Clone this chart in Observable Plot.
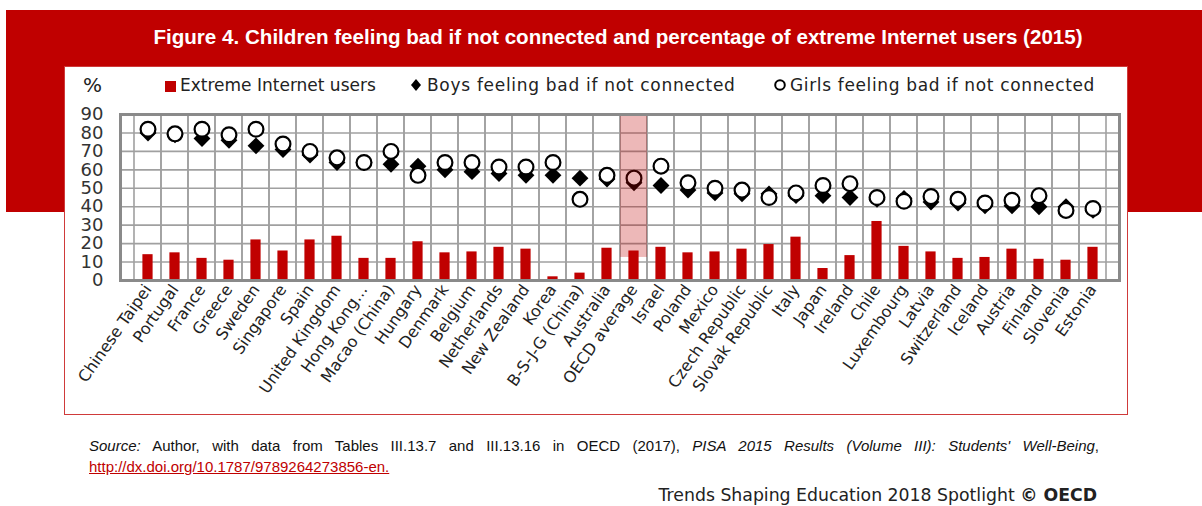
<!DOCTYPE html>
<html>
<head>
<meta charset="utf-8">
<script src="https://cdn.jsdelivr.net/npm/d3@7"></script>
<script src="https://cdn.jsdelivr.net/npm/@observablehq/plot@0.6"></script>
<style>
  html, body { margin: 0; padding: 0; background: #fff; }
  body { width: 1202px; height: 506px; position: relative; overflow: hidden; }
  #band { position: absolute; left: 6px; top: 10px; width: 1196px; height: 202px; background: #c00000; }
  #title { position: absolute; left: 0; top: 25px; width: 1236px; text-align: center; color: #fff;
    font: bold 20.6px "Liberation Sans", Arial, sans-serif; white-space: nowrap; }
  #panel { position: absolute; left: 64px; top: 66px; width: 1062px; height: 347px; background: #fff; border: 1px solid #cf3a3a; }
  .leg { position: absolute; top: 74px; font: 17px "DejaVu Sans", sans-serif; color: #222; white-space: nowrap; line-height: 22px; }
  #chart { position: absolute; left: 66px; top: 100px; }
  #source { position: absolute; left: 89px; top: 437px; width: 1010px; font: 15px "Liberation Sans", Arial, sans-serif; color: #111;
    text-align: justify; text-align-last: justify; white-space: nowrap; }
  #link { position: absolute; left: 89px; top: 458px; font: 15px "Liberation Sans", Arial, sans-serif; color: #c00000; text-decoration: underline; }
  #credit { position: absolute; right: 105px; top: 485px; font: 17.3px "DejaVu Sans", sans-serif; color: #222; white-space: nowrap; }
</style>
</head>
<body>
<div id="band"></div>
<div id="title">Figure 4. Children feeling bad if not connected and percentage of extreme Internet users (2015)</div>
<div id="panel"></div>
<div class="leg" style="left:83px;font-size:20px;">%</div>
<div class="leg" style="left:165px;"><svg width="12" height="12" style="vertical-align:-1px;margin-right:3px"><rect x="0" y="1" width="11" height="11" fill="#c00000"/></svg>Extreme Internet users</div>
<div class="leg" style="left:410px;letter-spacing:0.7px;"><svg width="14" height="14" style="vertical-align:-1px;margin-right:3px"><path d="M6,1L11,7L6,13L1,7Z" fill="#000"/></svg>Boys feeling bad if not connected</div>
<div class="leg" style="left:773px;letter-spacing:0.65px;"><svg width="14" height="14" style="vertical-align:-1px;margin-right:3px"><circle cx="7" cy="7" r="4.8" fill="#fff" stroke="#000" stroke-width="2"/></svg>Girls feeling bad if not connected</div>
<div id="chart"></div>
<div id="source"><i>Source:</i> Author, with data from Tables III.13.7 and III.13.16 in OECD (2017), <i>PISA 2015 Results (Volume III): Students' Well-Being</i>,</div>
<div id="link">http://dx.doi.org/10.1787/9789264273856-en.</div>
<div id="credit">Trends Shaping Education 2018 Spotlight <b>© OECD</b></div>
<script>
const categories = ["Chinese Taipei","Portugal","France","Greece","Sweden","Singapore","Spain","United Kingdom","Hong Kong…","Macao (China)","Hungary","Denmark","Belgium","Netherlands","New Zealand","Korea","B-S-J-G (China)","Australia","OECD average","Israel","Poland","Mexico","Czech Republic","Slovak Republic","Italy","Japan","Ireland","Chile","Luxembourg","Latvia","Switzerland","Iceland","Austria","Finland","Slovenia","Estonia"];
const extreme = [14, 15, 12, 11, 22, 16, 22, 24, 12, 12, 21, 15, 15.5, 18, 17, 2, 4, 17.5, 16, 18, 15, 15.5, 17, 19.5, 23.5, 6.5, 13.5, 32, 18.5, 15.5, 12, 12.5, 17, 11.5, 11, 18];
const boys = [80, 79, 77, 76, 73, 71, 68, 64, 64, 63, 62, 60, 59, 58, 57, 57, 55.5, 55, 53, 51.5, 49, 47.5, 47, 47, 46, 46, 45, 44, 44.5, 42.5, 42, 40.5, 40.5, 40, 40, 38];
const girls = [82, 79.5, 82, 79, 82, 74, 70, 66.5, 64, 70, 57, 64, 64, 61.5, 61.5, 64, 44, 57, 55.5, 62, 53, 50, 49, 45, 47.5, 51.5, 52.5, 45, 43, 45.5, 44, 42, 43.5, 46, 38, 39];
const yTicks = [0, 10, 20, 30, 40, 50, 60, 70, 80, 90];
const highlight = ["OECD average"];
const highlightRange = [12.5, 90];

const data = categories.map((c, i) => ({cat: c, extreme: extreme[i], boys: boys[i], girls: girls[i]}));

const chart = Plot.plot({
  width: 1060,
  height: 300,
  marginLeft: 54,
  marginRight: 7,
  marginTop: 14,
  marginBottom: 120,
  style: {fontFamily: "'DejaVu Sans', sans-serif", color: "#222", background: "transparent", overflow: "visible"},
  x: {domain: categories, padding: 0, label: null},
  y: {domain: [0, 90], label: null},
  marks: [
    Plot.gridY(yTicks, {stroke: "#a0a0a0", strokeWidth: 1.6, strokeOpacity: 1}),
    Plot.barY(categories, {x: d => d, y1: 0, y2: 90, fill: "none", stroke: "#a0a0a0", strokeWidth: 1.6, inset: 0}),
    Plot.barY(data, {x: "cat", y: "extreme", fill: "#c00000", insetLeft: 8.4, insetRight: 8.4}),
    Plot.dot(data, {x: "cat", y: "boys", symbol: "diamond2", r: 7.6, fill: "#000", stroke: "none"}),
    Plot.dot(data, {x: "cat", y: "girls", symbol: "circle", r: 7.4, fill: "#fff", stroke: "#000", strokeWidth: 2.2}),
    Plot.barY(highlight, {x: d => d, y1: highlightRange[0], y2: highlightRange[1], fill: "#c00000", fillOpacity: 0.28, inset: 0}),
    Plot.frame({stroke: "#8a8a8a", strokeWidth: 3}),
    Plot.axisY(yTicks, {tickSize: 0, tickPadding: 17, fontSize: 18, fill: "#333"}),
    Plot.axisX({tickSize: 0, tickPadding: 6, tickRotate: -55, fontSize: 16, fill: "#222"})
  ]
});
document.getElementById("chart").appendChild(chart);
</script>
</body>
</html>
